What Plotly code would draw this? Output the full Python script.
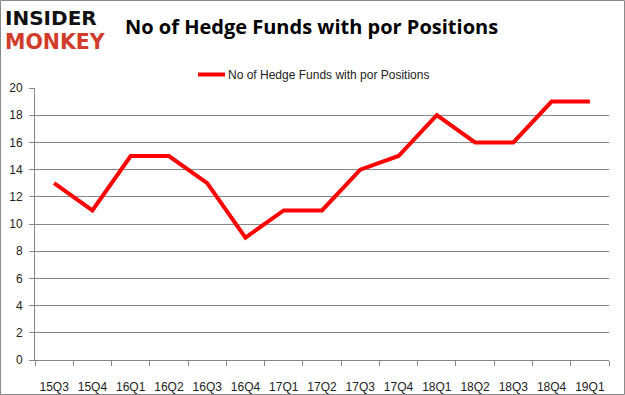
import plotly.graph_objects as go

categories = ["15Q3", "15Q4", "16Q1", "16Q2", "16Q3", "16Q4", "17Q1", "17Q2",
              "17Q3", "17Q4", "18Q1", "18Q2", "18Q3", "18Q4", "19Q1"]
values = [13, 11, 15, 15, 13, 9, 11, 11, 14, 15, 18, 16, 16, 19, 19]
y_ticks = [0, 2, 4, 6, 8, 10, 12, 14, 16, 18, 20]
series_name = "No of Hedge Funds with por Positions"
title_text = "No of Hedge Funds with por Positions"

W, H = 625, 395
L, R, T, B = 35, 16, 88, 35
pw, ph = W - L - R, H - T - B

fig = go.Figure()
fig.add_trace(go.Scatter(
    x=categories, y=values, mode="lines", name=series_name,
    line=dict(color="#ff0000", width=4), showlegend=False,
))

def px_x(px):
    return (px - L) / pw

def px_y(py):
    return 1 - (py - T) / ph

fig.update_layout(
    width=W, height=H,
    margin=dict(l=L, r=R, t=T, b=B, pad=0, autoexpand=False),
    paper_bgcolor="white", plot_bgcolor="white",
    font=dict(family="Liberation Sans, Arial, sans-serif", size=11, color="#222"),
    showlegend=False,
    xaxis=dict(type="category", range=[-0.5, len(categories) - 0.5], automargin=False,
               showline=True, linecolor="#878787", linewidth=1,
               ticks="outside", tickson="boundaries", ticklen=5, tickcolor="#878787",
               ticklabelstandoff=16, tickangle=0,
               showgrid=False, tickfont=dict(size=12, color="#222")),
    yaxis=dict(range=[0, 20], tickvals=y_ticks, showline=True, linecolor="#878787",
               linewidth=1, gridcolor="#878787", gridwidth=1, zeroline=False,
               automargin=False,
               ticks="outside", ticklen=5, tickcolor="#878787", ticklabelstandoff=4,
               tickfont=dict(size=12, color="#222")),
    annotations=[
        dict(text="<b>" + title_text + "</b>", xref="paper", yref="paper",
             x=px_x(311.5), y=px_y(27), xanchor="center", yanchor="middle",
             showarrow=False, font=dict(size=20, family="Open Sans, Liberation Sans, sans-serif", color="#000")),
        dict(text="<b>INSIDER</b>", xref="paper", yref="paper",
             x=px_x(3), y=px_y(18), xanchor="left", yanchor="middle",
             showarrow=False, font=dict(size=20, family="DejaVu Sans, sans-serif", color="#111")),
        dict(text="<b>MONKEY</b>", xref="paper", yref="paper",
             x=px_x(3), y=px_y(42), xanchor="left", yanchor="middle",
             showarrow=False, font=dict(size=20.5, family="DejaVu Sans, sans-serif", color="#d23c2a")),
        dict(text=series_name, xref="paper", yref="paper",
             x=px_x(226), y=px_y(74.5), xanchor="left", yanchor="middle",
             showarrow=False, font=dict(size=12, color="#222")),
    ],
    shapes=[
        dict(type="rect", xref="paper", yref="paper",
             x0=px_x(0.5), x1=px_x(W - 0.5), y0=px_y(0.5), y1=px_y(H - 0.5),
             line=dict(color="#8a8a8a", width=1), layer="below"),
        dict(type="line", xref="paper", yref="paper",
             x0=px_x(198), x1=px_x(225), y0=px_y(74.5), y1=px_y(74.5),
             line=dict(color="#ff0000", width=4)),
    ],
)

fig.write_html("out.html", config={"displayModeBar": False},
               post_script="document.body.style.margin='0';document.body.style.overflow='hidden';")
